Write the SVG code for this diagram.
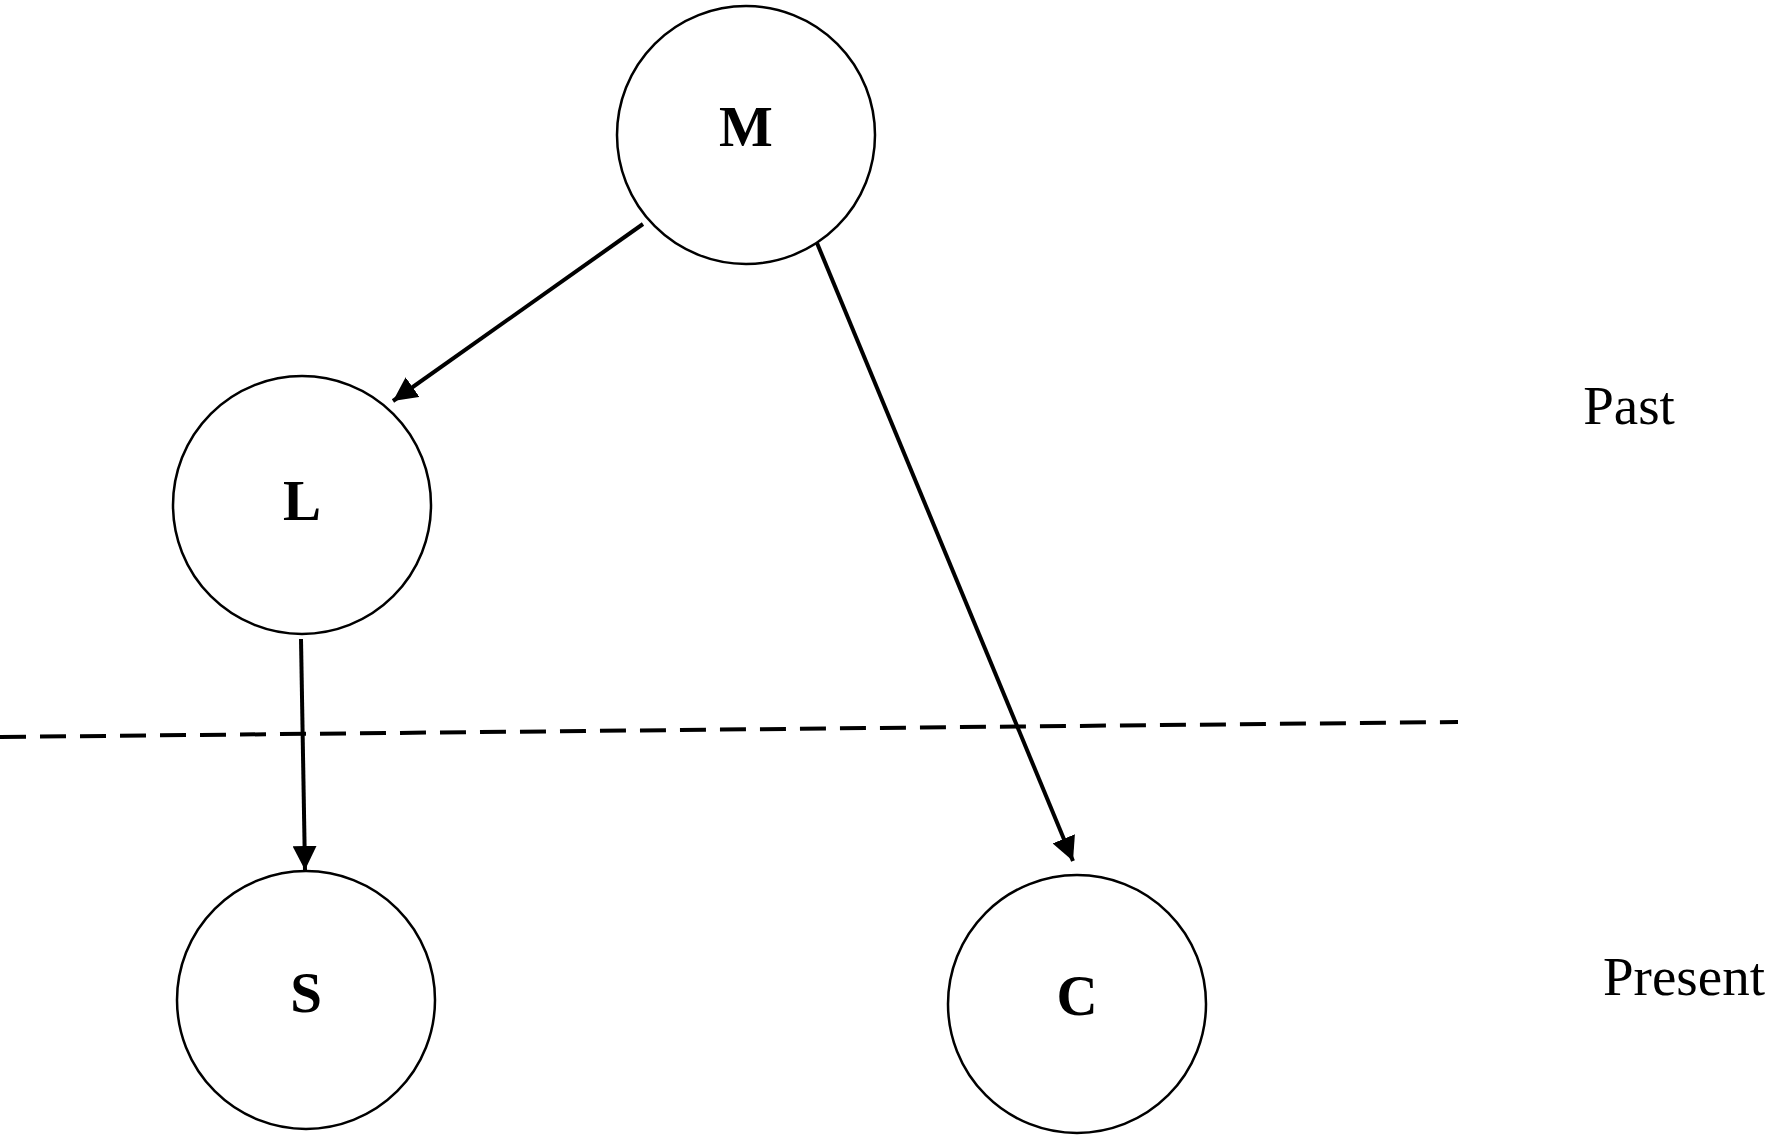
<svg xmlns="http://www.w3.org/2000/svg" width="1785" height="1138" viewBox="0 0 1785 1138">
<style>
.n{fill:#fff;stroke:#000;stroke-width:2.5}
.l{font-family:"Liberation Serif",serif;font-weight:bold;font-size:57px;text-anchor:middle}
.t{font-family:"Liberation Serif",serif;font-size:55px;text-anchor:middle}
.e{stroke:#000;stroke-width:4;fill:none;marker-end:url(#a)}
</style>
<defs><marker id="a" viewBox="0 0 10 10" refX="10" refY="5" markerWidth="6" markerHeight="6" orient="auto" markerUnits="strokeWidth"><path d="M0,0L10,5L0,10z" fill="#000"/></marker></defs>
<rect width="1785" height="1138" fill="#fff"/>
<g id="connectors">
<line class="e" x1="643" y1="224" x2="393" y2="401"/>
<line class="e" x1="817" y1="243" x2="1073" y2="861"/>
<line class="e" x1="301" y1="639" x2="305" y2="870"/>
<line x1="0" y1="737" x2="1458" y2="722" stroke="#000" stroke-width="4" stroke-dasharray="26,14"/>
</g>
<g id="M"><circle class="n" cx="746" cy="135" r="129"/><text class="l" x="746" y="146">M</text></g>
<g id="L"><circle class="n" cx="302" cy="505" r="129"/><text class="l" x="302" y="520">L</text></g>
<g id="S"><circle class="n" cx="306" cy="1000" r="129"/><text class="l" x="306" y="1012">S</text></g>
<g id="C"><circle class="n" cx="1077" cy="1004" r="129"/><text class="l" x="1077" y="1015">C</text></g>
<text class="t" x="1629" y="424">Past</text>
<text class="t" x="1684" y="995">Present</text>
</svg>
